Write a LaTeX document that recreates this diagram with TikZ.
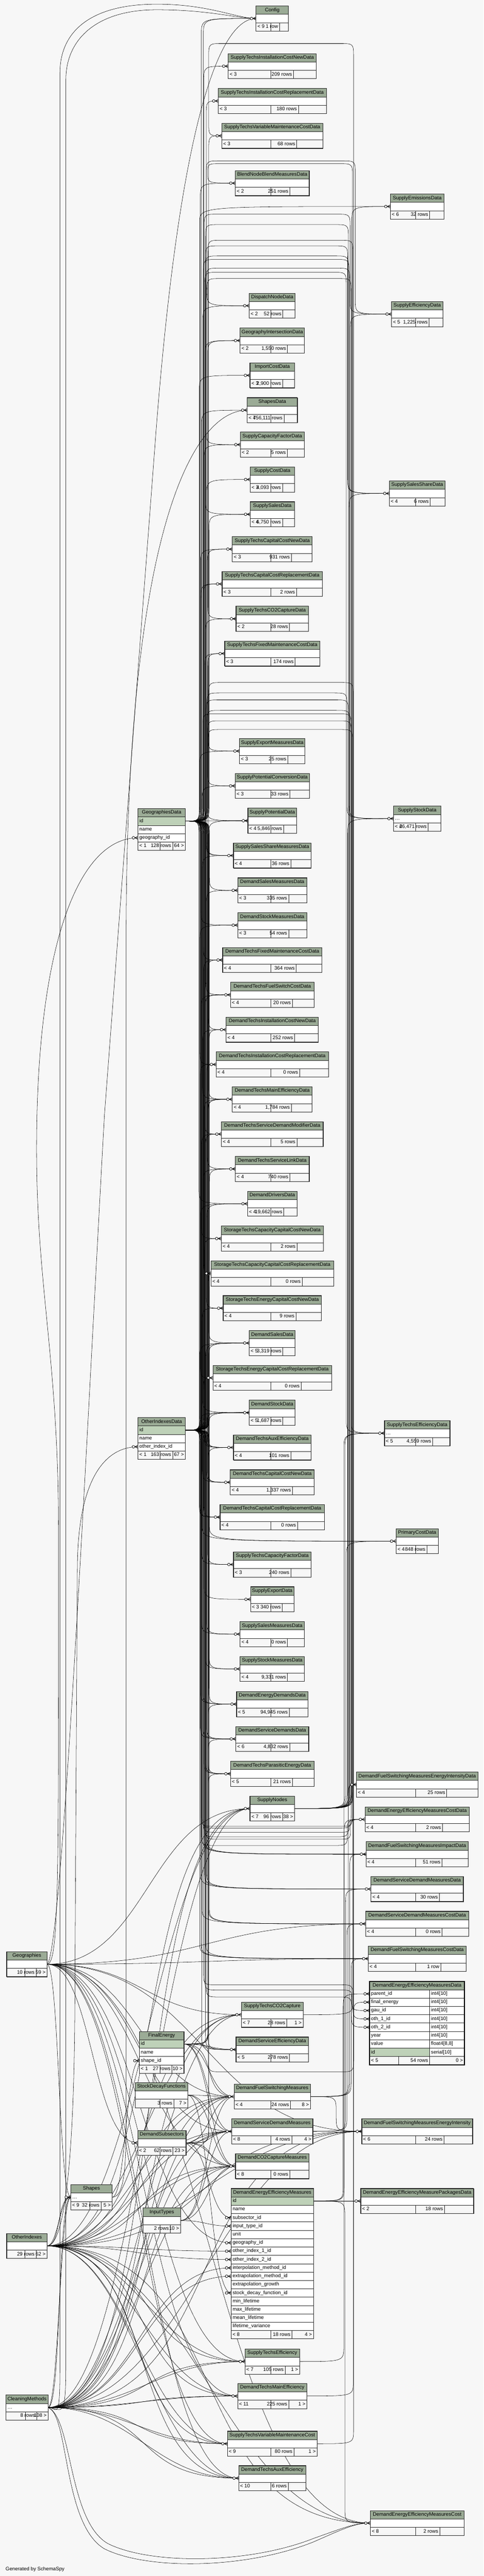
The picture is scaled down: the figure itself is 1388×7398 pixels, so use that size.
\documentclass[tikz,border=0pt]{standalone}
\usepackage{fontspec}
\setmainfont{Liberation Sans}
\usetikzlibrary{calc}
\pgfdeclarelayer{bglayer}
\pgfdeclarelayer{edgelayer}
\pgfsetlayers{bglayer,edgelayer,main}
\definecolor{bgc}{HTML}{F7F7F7}
\definecolor{hdc}{HTML}{9BAB96}
\definecolor{pkc}{HTML}{BED1B8}
\definecolor{bdc}{HTML}{2A2A2A}
\newcommand\txtfont{\fontsize{14.4}{17}\selectfont}
\newlength\wA \newlength\wB \newlength\wC
\tikzset{
 edge/.style={draw=black, line width=0.8pt},
 mk/.style={draw=black, line width=1.1pt},
 cell/.style={draw=bdc, line width=0.9pt},
 txt/.style={font=\txtfont, inner sep=0pt, text height=10.3pt, text depth=3pt},
}
% ---------- table: id, cx, ytop, width, title, rows, f1, f2, f3
\newcommand\tb[9]{%
 \pgfmathsetmacro\tbxa{#2-#4/2}%
 \pgfmathsetmacro\tbxb{#2+#4/2}%
 \filldraw[cell, fill=hdc] (\tbxa,#3) rectangle (\tbxb,#3+24);
 \node[txt] at (#2,#3+12) {#5};
 \foreach \rowtxt/\rowkind [count=\i] in {#6} {%
   \pgfmathsetmacro\tbya{#3+24*\i}%
   \if\rowkind k\def\tbfill{pkc}\else\def\tbfill{white}\fi
   \filldraw[cell, fill=\tbfill] (\tbxa,\tbya) rectangle (\tbxb,\tbya+24);
   \node[txt, anchor=west] at (\tbxa+4,\tbya+12) {\rowtxt};
   \coordinate (#1-r\i-in) at (\tbxa,\tbya+12);
   \coordinate (#1-r\i-out) at (\tbxb,\tbya+12);
   \xdef\tbnr{\i}}%
 \pgfmathsetmacro\tbyf{#3+24*(\tbnr+1)}%
 \settowidth\wA{\txtfont #7}\settowidth\wB{\txtfont #8}\settowidth\wC{\txtfont #9}%
 \pgfmathsetmacro\tbna{max(\wA+8,10)}%
 \pgfmathsetmacro\tbnb{max(\wB+8,10)}%
 \pgfmathsetmacro\tbnc{max(\wC+8,10)}%
 \pgfmathsetmacro\tbe{#4-\tbna-\tbnb-\tbnc}%
 \pgfmathsetmacro\tbxc{\tbxa+\tbna+\tbe/2}%
 \pgfmathsetmacro\tbxd{\tbxc+\tbnb+\tbe/4}%
 \filldraw[cell, fill=bgc] (\tbxa,\tbyf) rectangle (\tbxc,\tbyf+24);
 \filldraw[cell, fill=bgc] (\tbxc,\tbyf) rectangle (\tbxd,\tbyf+24);
 \filldraw[cell, fill=bgc] (\tbxd,\tbyf) rectangle (\tbxb,\tbyf+24);
 \node[txt, anchor=west] at (\tbxa+4,\tbyf+12) {#7};
 \node[txt, anchor=east] at (\tbxd-4,\tbyf+12) {#8};
 \node[txt, anchor=east] at (\tbxb-4,\tbyf+12) {#9};
 \draw[draw=bdc, line width=1.3pt] (\tbxa,#3) rectangle (\tbxb,\tbyf+24);
 \pgfmathsetmacro\tbh{24*(\tbnr+2)}%
 \node[inner sep=0pt, minimum width=#4pt, minimum height=\tbh pt, anchor=north west] (#1) at (\tbxa,#3) {};
 \coordinate (#1-in) at (\tbxa,#3+36);
 \coordinate (#1-out) at (\tbxb,#3+36);
}
% ---------- connectors
\newcommand\eA[3]{%
 \draw[edge] let \p1=(#1), \p2=(#2), \n1={max(-45,min(45,((\y2)-(\y1))/2))} in
  (\p1) .. controls ({#3pt},{\y1}) .. ({#3pt},{\y1+(\n1)*1pt})
  -- ({#3pt},{\y2-(\n1)*1pt}) .. controls ({#3pt},{\y2}) .. (\p2);}
\newcommand\eB[5]{%
 \draw[edge] let \p1=(#1), \p2=(#2), \n3={-(#4)},
   \n1={max(-40,min(40,((\n3)-(\y1))/2))},
   \n2={max(-40,min(40,((\y2)-(\n3))/2))},
   \n4={(#5>#3)?40:-40} in
  (\p1) .. controls ({#3pt},{\y1}) .. ({#3pt},{\y1+(\n1)*1pt})
  -- ({#3pt},{(\n3)*1pt-(\n1)*1pt}) .. controls ({#3pt},{(\n3)*1pt}) .. ({#3pt+(\n4)*1pt},{(\n3)*1pt})
  -- ({#5pt-(\n4)*1pt},{(\n3)*1pt}) .. controls ({#5pt},{(\n3)*1pt}) .. ({#5pt},{(\n3)*1pt+(\n2)*1pt})
  -- ({#5pt},{\y2-(\n2)*1pt}) .. controls ({#5pt},{\y2}) .. (\p2);}
\newcommand\eE[3][0.5]{%
 \draw[edge] let \p1=(#2), \p2=(#3), \n1={#1*((\x2)-(\x1))} in
  (\p1) .. controls +(\n1,0) and +(-\n1,0) .. (\p2);}
\newcommand\crow[1]{%
 \draw[mk] (#1) -- ++(-9,0) (#1) ++(0,-4.5) -- ++(-9,4.5) -- ++(9,4.5);
 \filldraw[mk,fill=white] (#1) ++(-13,0) circle[radius=3.8pt];}

\begin{document}
\begin{tikzpicture}[x=1pt,y=-1pt]
\useasboundingbox (0,0) rectangle (1388,7398);
\begin{pgfonlayer}{bglayer}
\fill[bgc] (0,0) rectangle (1388,7398);
\end{pgfonlayer}

% ================= middle column
\tb{cfg}{781.5}{17}{93}{Config}{{}/n}{< 9}{1 row}{}
\tb{stic}{781.5}{154}{253}{SupplyTechsInstallationCostNewData}{{}/n}{< 3}{209 rows}{}
\tb{stir}{781.5}{254}{310}{SupplyTechsInstallationCostReplacementData}{{}/n}{< 3}{180 rows}{}
\tb{stvm}{781.5}{354}{290}{SupplyTechsVariableMaintenanceCostData}{{}/n}{< 3}{68 rows}{}
\tb{bnbm}{781.5}{490}{212}{BlendNodeBlendMeasuresData}{{}/n}{< 2}{251 rows}{}
\tb{dnd}{781.5}{842}{132}{DispatchNodeData}{{}/n}{< 2}{52 rows}{}
\tb{gid}{781.5}{942}{185}{GeographyIntersectionData}{{}/n}{< 2}{1,550 rows}{}
\tb{icd}{781.5}{1042}{128}{ImportCostData}{{}/n}{< 3}{2,900 rows}{}
\tb{shd}{781.5}{1142}{144}{ShapesData}{{}/n}{< 4}{756,111 rows}{}
\tb{scf}{781.5}{1241}{183}{SupplyCapacityFactorData}{{}/n}{< 2}{5 rows}{}
\tb{scd}{781.5}{1341}{127}{SupplyCostData}{{}/n}{< 3}{4,093 rows}{}
\tb{ssd}{781.5}{1441}{127}{SupplySalesData}{{}/n}{< 4}{6,750 rows}{}
\tb{stccn}{781.5}{1541}{229}{SupplyTechsCapitalCostNewData}{{}/n}{< 3}{931 rows}{}
\tb{stccr}{781.5}{1641}{288}{SupplyTechsCapitalCostReplacementData}{{}/n}{< 3}{2 rows}{}
\tb{stcod}{781.5}{1741}{208}{SupplyTechsCO2CaptureData}{{}/n}{< 2}{28 rows}{}
\tb{stfm}{781.5}{1841}{273}{SupplyTechsFixedMaintenanceCostData}{{}/n}{< 3}{174 rows}{}
\tb{sem}{781.5}{2121}{188}{SupplyExportMeasuresData}{{}/n}{< 3}{25 rows}{}
\tb{spc}{781.5}{2221}{213}{SupplyPotentialConversionData}{{}/n}{< 3}{33 rows}{}
\tb{spd}{781.5}{2321}{140}{SupplyPotentialData}{{}/n}{< 4}{5,846 rows}{}
\tb{sssm}{781.5}{2421}{223}{SupplySalesShareMeasuresData}{{}/n}{< 4}{36 rows}{}
\tb{dsm}{781.5}{2521}{198}{DemandSalesMeasuresData}{{}/n}{< 3}{335 rows}{}
\tb{dstm}{781.5}{2621}{198}{DemandStockMeasuresData}{{}/n}{< 3}{54 rows}{}
\tb{dtfm}{781.5}{2721}{285}{DemandTechsFixedMaintenanceCostData}{{}/n}{< 4}{364 rows}{}
\tb{dtfs}{781.5}{2821}{240}{DemandTechsFuelSwitchCostData}{{}/n}{< 4}{20 rows}{}
\tb{dticn}{781.5}{2921}{265}{DemandTechsInstallationCostNewData}{{}/n}{< 4}{252 rows}{}
\tb{dticr}{781.5}{3021}{323}{DemandTechsInstallationCostReplacementData}{{}/n}{< 4}{0 rows}{}
\tb{dtmed}{781.5}{3121}{229}{DemandTechsMainEfficiencyData}{{}/n}{< 4}{1,784 rows}{}
\tb{dtsdm}{781.5}{3221}{292}{DemandTechsServiceDemandModifierData}{{}/n}{< 4}{5 rows}{}
\tb{dtsl}{781.5}{3321}{212}{DemandTechsServiceLinkData}{{}/n}{< 4}{740 rows}{}
\tb{ddd}{781.5}{3421}{142}{DemandDriversData}{{}/n}{< 4}{19,662 rows}{}
\tb{stcn}{781.5}{3521}{293}{StorageTechsCapacityCapitalCostNewData}{{}/n}{< 4}{2 rows}{}
\tb{stcr}{781.5}{3621}{352}{StorageTechsCapacityCapitalCostReplacementData}{{}/n}{< 4}{0 rows}{}
\tb{sten}{781.5}{3721}{282}{StorageTechsEnergyCapitalCostNewData}{{}/n}{< 4}{9 rows}{}
\tb{dsd}{781.5}{3821}{132}{DemandSalesData}{{}/n}{< 5}{3,319 rows}{}
\tb{ster}{781.5}{3921}{341}{StorageTechsEnergyCapitalCostReplacementData}{{}/n}{< 4}{0 rows}{}
\tb{dstd}{781.5}{4021}{132}{DemandStockData}{{}/n}{< 5}{1,687 rows}{}
\tb{dtaed}{781.5}{4121}{223}{DemandTechsAuxEfficiencyData}{{}/n}{< 4}{101 rows}{}
\tb{dtccn}{781.5}{4221}{241}{DemandTechsCapitalCostNewData}{{}/n}{< 4}{1,337 rows}{}
\tb{dtccr}{781.5}{4321}{300}{DemandTechsCapitalCostReplacementData}{{}/n}{< 4}{0 rows}{}
\tb{stcfd}{781.5}{4457}{223}{SupplyTechsCapacityFactorData}{{}/n}{< 3}{240 rows}{}
\tb{sexd}{781.5}{4557}{125}{SupplyExportData}{{}/n}{< 3}{340 rows}{}
\tb{ssmd}{781.5}{4657}{185}{SupplySalesMeasuresData}{{}/n}{< 4}{0 rows}{}
\tb{sstmd}{781.5}{4757}{185}{SupplyStockMeasuresData}{{}/n}{< 4}{9,331 rows}{}
\tb{dedd}{781.5}{4858}{205}{DemandEnergyDemandsData}{{}/n}{< 5}{94,945 rows}{}
\tb{dsdd}{781.5}{4958}{209}{DemandServiceDemandsData}{{}/n}{< 6}{4,832 rows}{}
\tb{dtpe}{781.5}{5058}{240}{DemandTechsParasiticEnergyData}{{}/n}{< 5}{21 rows}{}
\tb{sn}{781.5}{5158}{128}{SupplyNodes}{{}/n}{< 7}{96 rows}{38 >}
\tb{stco}{781.5}{5750}{177}{SupplyTechsCO2Capture}{{}/n}{< 7}{28 rows}{1 >}
\tb{dsed}{781.5}{5850}{208}{DemandServiceEfficiencyData}{{}/n}{< 5}{278 rows}{}
\tb{dfsm}{781.5}{5985}{219}{DemandFuelSwitchingMeasures}{{}/n}{< 4}{24 rows}{8 >}
\tb{dsdm}{781.5}{6085}{233}{DemandServiceDemandMeasures}{{}/n}{< 8}{4 rows}{4 >}
\tb{dccm}{781.5}{6185}{211}{DemandCO2CaptureMeasures}{{}/n}{< 8}{0 rows}{}
\tb{deem}{781.5}{6285}{236}{DemandEnergyEfficiencyMeasures}{id/k,name/n,subsector\_id/n,input\_type\_id/n,unit/n,geography\_id/n,other\_index\_1\_id/n,other\_index\_2\_id/n,interpolation\_method\_id/n,extrapolation\_method\_id/n,extrapolation\_growth/n,stock\_decay\_function\_id/n,min\_lifetime/n,max\_lifetime/n,mean\_lifetime/n,lifetime\_variance/n}{< 8}{18 rows}{4 >}
\tb{ste}{781.5}{6746}{157}{SupplyTechsEfficiency}{{}/n}{< 7}{105 rows}{1 >}
\tb{dtme}{781.5}{6845}{199}{DemandTechsMainEfficiency}{{}/n}{< 11}{225 rows}{1 >}
\tb{stvmc}{781.5}{6982}{258}{SupplyTechsVariableMaintenanceCost}{{}/n}{< 9}{80 rows}{1 >}
\tb{dtae}{781.5}{7081}{193}{DemandTechsAuxEfficiency}{{}/n}{< 10}{6 rows}{}

% ================= right column
\tb{sed}{1197.5}{557}{154}{SupplyEmissionsData}{{}/n}{< 6}{32 rows}{}
\tb{sefd}{1197.5}{866}{147}{SupplyEfficiencyData}{{}/n}{< 5}{1,225 rows}{}
\tb{sssd}{1197.5}{1381}{160}{SupplySalesShareData}{{}/n}{< 4}{6 rows}{}
\tb{sstd}{1197.5}{2315}{136}{SupplyStockData}{\ldots/n}{< 4}{26,471 rows}{}
\tb{sted}{1197.5}{4080}{188}{SupplyTechsEfficiencyData}{\ldots/n}{< 5}{4,559 rows}{}
\tb{pcd}{1197.5}{4390}{121}{PrimaryCostData}{{}/n}{< 4}{848 rows}{}
\tb{dfseid}{1197.5}{5089}{349}{DemandFuelSwitchingMeasuresEnergyIntensityData}{{}/n}{< 4}{25 rows}{}
\tb{deemcd}{1197.5}{5189}{300}{DemandEnergyEfficiencyMeasuresCostData}{{}/n}{< 4}{2 rows}{}
\tb{dfsmid}{1197.5}{5289}{294}{DemandFuelSwitchingMeasuresImpactData}{{}/n}{< 4}{51 rows}{}
\tb{dsdmd}{1197.5}{5389}{265}{DemandServiceDemandMeasuresData}{{}/n}{< 4}{30 rows}{}
\tb{dsdmcd}{1197.5}{5489}{296}{DemandServiceDemandMeasuresCostData}{{}/n}{< 4}{0 rows}{}
\tb{dfsmcd}{1197.5}{5589}{281}{DemandFuelSwitchingMeasuresCostData}{{}/n}{< 4}{1 row}{}
\tb{dfsei}{1197.5}{6085}{318}{DemandFuelSwitchingMeasuresEnergyIntensity}{{}/n}{< 6}{24 rows}{}
\tb{deempd}{1197.5}{6285}{324}{DemandEnergyEfficiencyMeasurePackagesData}{{}/n}{< 2}{18 rows}{}
\tb{deemc}{1197.5}{7210}{269}{DemandEnergyEfficiencyMeasuresCost}{{}/n}{< 8}{2 rows}{}

% focus table (two columns, bold border)
\filldraw[cell, fill=hdc] (1061,5690) rectangle (1333,5714);
\node[txt] at (1197,5702) {DemandEnergyEfficiencyMeasuresData};
\foreach \ca/\cb/\ck [count=\i] in {parent\_id/int4[10]/n, final\_energy/int4[10]/n, gau\_id/int4[10]/n, oth\_1\_id/int4[10]/n, oth\_2\_id/int4[10]/n, year/int4[10]/n, value/{float4[8,8]}/n, id/serial[10]/k} {
  \pgfmathsetmacro\tbya{5690+24*\i}
  \if\ck k\def\tbfill{pkc}\else\def\tbfill{white}\fi
  \filldraw[cell, fill=\tbfill] (1061,\tbya) rectangle (1233,\tbya+24);
  \filldraw[cell, fill=white] (1233,\tbya) rectangle (1333,\tbya+24);
  \node[txt,anchor=west] at (1065,\tbya+12) {\ca};
  \node[txt,anchor=west] at (1237,\tbya+12) {\cb};
  \coordinate (deemd-r\i-in) at (1061,\tbya+12);
}
\filldraw[cell, fill=bgc] (1061,5906) rectangle (1144,5930);
\filldraw[cell, fill=bgc] (1144,5906) rectangle (1233,5930);
\filldraw[cell, fill=bgc] (1233,5906) rectangle (1333,5930);
\node[txt,anchor=west] at (1065,5918) {< 5};
\node[txt,anchor=east] at (1229,5918) {54 rows};
\node[txt,anchor=east] at (1329,5918) {0 >};
\draw[line width=3pt] (1061,5690) rectangle (1333,5930);
\node[inner sep=0pt, minimum width=272pt, minimum height=240pt, anchor=north west] (deemd) at (1061,5690) {};

% ================= left columns
\tb{gd}{464}{2322}{136}{GeographiesData}{id/k,name/n,geography\_id/n}{< 1}{128 rows}{64 >}
\tb{od}{464}{4071}{136}{OtherIndexesData}{id/k,name/n,other\_index\_id/n}{< 1}{163 rows}{67 >}
\tb{fe}{464}{5834}{128}{FinalEnergy}{id/k,name/n,shape\_id/n}{< 1}{27 rows}{10 >}
\tb{sdf}{463.5}{5981}{151}{StockDecayFunctions}{{}/n}{}{3 rows}{7 >}
\tb{dss}{464.5}{6118}{139}{DemandSubsectors}{{}/n}{< 2}{62 rows}{23 >}
\tb{it}{464.5}{6341}{107}{InputTypes}{{}/n}{}{2 rows}{10 >}
\tb{geo}{77}{5605}{116}{Geographies}{{}/n}{}{10 rows}{59 >}
\tb{oi}{77}{6414}{116}{OtherIndexes}{{}/n}{}{29 rows}{62 >}
\tb{clm}{77.5}{6878}{121}{CleaningMethods}{\ldots/n}{}{8 rows}{108 >}
\tb{shp}{262.5}{6274}{119}{Shapes}{\ldots/n}{< 9}{32 rows}{5 >}

\node[txt, anchor=west] (credit) at (16,7378) {Generated by SchemaSpy};

% ================= connectors
\begin{pgfonlayer}{edgelayer}
% GeographiesData fan (left bundle)
\foreach \c [count=\i] in {cfg,stic,stir,stvm,bnbm,dnd,gid,gid,icd,shd,scf,scd,ssd,stccn,stccr,stcod,stfm,sem,spc,spd,sssm,dsm,dstm,dtfm,dtfs,dticn,dticr,dtmed,dtsdm,dtsl,ddd,stcn,stcr,sten,dsd,ster,dstd,dtaed,dtccn,dtccr,stcfd,sexd,ssmd,sstmd,dedd,dsdd,dtpe,dsed,sed,pcd,dfsmid,dsdmd,dsdmcd,dfsmcd}
  {\pgfmathsetmacro\lx{571+mod(7*\i,31)}\eA{gd-out}{\c-in}{\lx}}
% OtherIndexesData fan
\foreach \c [count=\i] in {cfg,stccn,stccr,stfm,spd,sssm,dsm,dstm,dtfm,dtfm,dtfs,dtfs,dticn,dticn,dticr,dticr,dtmed,dtmed,dtsdm,dtsdm,dtsl,dtsl,ddd,ddd,stcn,stcr,sten,dsd,dsd,ster,dstd,dstd,dtaed,dtaed,dtccn,dtccn,dtccr,dtccr,stcfd,ssmd,sstmd,dedd,dedd,dsdd,dsdd,dtpe,dtpe,dsed,dsed,pcd,dfsmid,dfsmid,dsdmd,dsdmd,dsdmcd,dsdmcd,dfsmcd,dfsmcd}
  {\pgfmathsetmacro\lx{573+mod(11*\i,29)}\eA{od-out}{\c-in}{\lx}}
% arcs over the gaps to the right column
\eB{gd-out}{sefd-in}{586}{615}{1005}
\eB{gd-out}{sefd-in}{592}{462}{1020}
\eB{gd-out}{sssd-in}{590}{645}{1000}
\eB{gd-out}{sstd-in}{594}{1990}{996}
\eB{gd-out}{sted-in}{582}{2050}{1008}
\eB{gd-out}{dfseid-in}{578}{5245}{1012}
\eB{gd-out}{deemcd-in}{584}{5262}{1003}
\eB{gd-out}{deemd-r3-in}{588}{5715}{1010}
\eB{od-out}{sssd-in}{590}{706}{998}
\eB{od-out}{sstd-in}{584}{745}{1002}
\eB{od-out}{sted-in}{588}{782}{994}
\eB{od-out}{dfseid-in}{582}{5250}{1008}
\eB{od-out}{dfseid-in}{586}{5275}{1000}
\eB{od-out}{deemcd-in}{590}{5282}{1006}
\eB{od-out}{deemcd-in}{578}{5300}{997}
\eB{od-out}{deemd-r4-in}{584}{5700}{1013}
\eB{od-out}{deemd-r5-in}{592}{5735}{1009}
\eB{fe-out}{deemd-r2-in}{598}{5950}{1015}
% SupplyNodes to its children
\eA{sn-out}{sed-in}{1010}
\eA{sn-out}{sefd-in}{1006}
\eA{sn-out}{sssd-in}{1002}
\eA{sn-out}{sstd-in}{998}
\eA{sn-out}{pcd-in}{994}
\eA{sn-out}{sted-in}{990}
\eB{sn-out}{bnbm-in}{1012}{470}{596}
\eB{sn-out}{dnd-in}{1008}{800}{594}
\eB{sn-out}{scf-in}{1004}{770}{592}
\eB{sn-out}{ssd-in}{1000}{735}{590}
\eB{sn-out}{sem-in}{1012}{2095}{598}
\eB{sn-out}{spc-in}{1008}{2070}{596}
\eB{sn-out}{spd-in}{1004}{2040}{594}
\eB{sn-out}{sssm-in}{1000}{2010}{592}
\eB{stco-out}{stcod-in}{1013}{690}{597}
\eB{dtme-out}{dtmed-in}{1014}{1960}{599}
\eB{stvmc-out}{stvm-in}{1015}{125}{599}
\eA{ste-out}{sted-in}{987}
\eA{dfsm-out}{dfseid-in}{1000}
\eA{dfsm-out}{dfsmid-in}{1004}
\eA{dfsm-out}{dfsmcd-in}{1008}
\eA{dfsm-out}{dfsei-in}{965}
\eA{dsdm-out}{dsdmd-in}{992}
\eA{dsdm-out}{dsdmcd-in}{996}
\eA{deem-out}{deemd-r1-in}{985}
\eA{deem-out}{deemcd-in}{988}
\eA{deem-out}{deempd-in}{965}
\eA{deem-out}{deemc-in}{990}
% lower-left parents
\foreach \c in {dedd,dtmed,dtaed,dtpe,dsdd} {\eA{fe-out}{\c-in}{597}}
\foreach \c in {dsd,dstd} {\eA{dss-out}{\c-in}{599}}
\foreach \c in {dsed,dfsm,dccm,dsdm} {\eE{fe-out}{\c-in}}
\eE[0.7]{fe-out}{dfsm-in}
\foreach \c in {dfsm,dsdm,dccm,deem-r12} {\eE{sdf-out}{\c-in}}
\foreach \c in {dfsm,dsdm,dccm,deem-r3} {\eE{dss-out}{\c-in}}
\eE[0.7]{dss-out}{dccm-in}
\foreach \c in {dfsm,dsdm,dccm,deem-r4} {\eE{it-out}{\c-in}}
\foreach \c in {sn,stco,dfsm,dsdm,dccm,deem-r6,ste,dtme,stvmc,dtae,deemc,dfsei,shp,dss,dfsmcd,dsdmcd} {\eE{geo-out}{\c-in}}
\foreach \c in {shp,sn,stco,dfsm,dsdm,dccm,ste,dtme,stvmc,dtae,deemc,dfsei} {\eE[0.45]{oi-out}{\c-in}\eE[0.6]{oi-out}{\c-in}}
\foreach \c in {deem-r7,deem-r8} {\eE{oi-out}{\c-in}}
\foreach \c in {shp,sn,stco,dfsm,dsdm,dccm,ste,dtme,stvmc,dtae,dfsei} {\eE[0.45]{clm-out}{\c-in}\eE[0.6]{clm-out}{\c-in}}
\foreach \c in {deem-r9,deem-r10} {\eE{clm-out}{\c-in}}
\eE{shp-out}{fe-r3-in}
% long special routes
\draw[edge] (clm-out) .. controls +(25,0) and (172,6960) .. (172,6800) -- (172,210) .. controls (172,90) and (260,12) .. (450,12) .. controls (600,12) and (680,53) .. (cfg-in);
\draw[edge] (clm-out) .. controls +(35,0) and (189,6960) .. (189,6800) -- (189,230) .. controls (189,110) and (280,28) .. (450,28) .. controls (600,28) and (680,53) .. (cfg-in);
\draw[edge] (geo-out) .. controls +(35,0) and (168,5400) .. (168,4400) .. controls (168,3900) and (105,3700) .. (105,3300) .. controls (105,2700) and (230,2406) .. (gd-r3-in);
\draw[edge] (geo-out) .. controls +(45,-20) and (260,3900) .. (300,3200) -- (447,1250) .. controls (520,300) and (640,53) .. (cfg-in);
\draw[edge] (oi-out) .. controls +(45,0) and (215,6250) .. (215,5700) -- (222,4500) .. controls (224,4250) and (300,4155) .. (od-r3-in);
\draw[edge] (shp-out) .. controls +(30,0) and (362,6250) .. (362,6100) -- (362,2700) .. controls (362,1500) and (560,1178) .. (shd-in);
\draw[edge] (clm-out) .. controls +(60,20) and (180,7250) .. (300,7320) .. controls (420,7380) and (700,7380) .. (900,7300) .. controls (980,7265) and (1020,7245) .. (deemc-in);
\draw[edge] (clm-out) .. controls +(70,30) and (195,7240) .. (310,7305) .. controls (430,7365) and (710,7365) .. (900,7290) .. controls (985,7260) and (1020,7245) .. (deemc-in);
% crow's feet at the referencing ends
\foreach \c in {cfg,stic,stir,stvm,bnbm,dnd,gid,icd,shd,scf,scd,ssd,stccn,stccr,stcod,stfm,sem,spc,spd,sssm,dsm,dstm,dtfm,dtfs,dticn,dticr,dtmed,dtsdm,dtsl,ddd,stcn,stcr,sten,dsd,ster,dstd,dtaed,dtccn,dtccr,stcfd,sexd,ssmd,sstmd,dedd,dsdd,dtpe,sn,stco,dsed,dfsm,dsdm,dccm,ste,dtme,stvmc,dtae,sed,sefd,sssd,sstd,sted,pcd,dfseid,deemcd,dfsmid,dsdmd,dsdmcd,dfsmcd,dfsei,deempd,deemc,dss,shp,gd-r3,od-r3,fe-r3,deem-r3,deem-r4,deem-r6,deem-r7,deem-r8,deem-r9,deem-r10,deem-r12,deemd-r1,deemd-r2,deemd-r3,deemd-r4,deemd-r5}
  {\crow{\c-in}}
\end{pgfonlayer}
\end{tikzpicture}
\end{document}
